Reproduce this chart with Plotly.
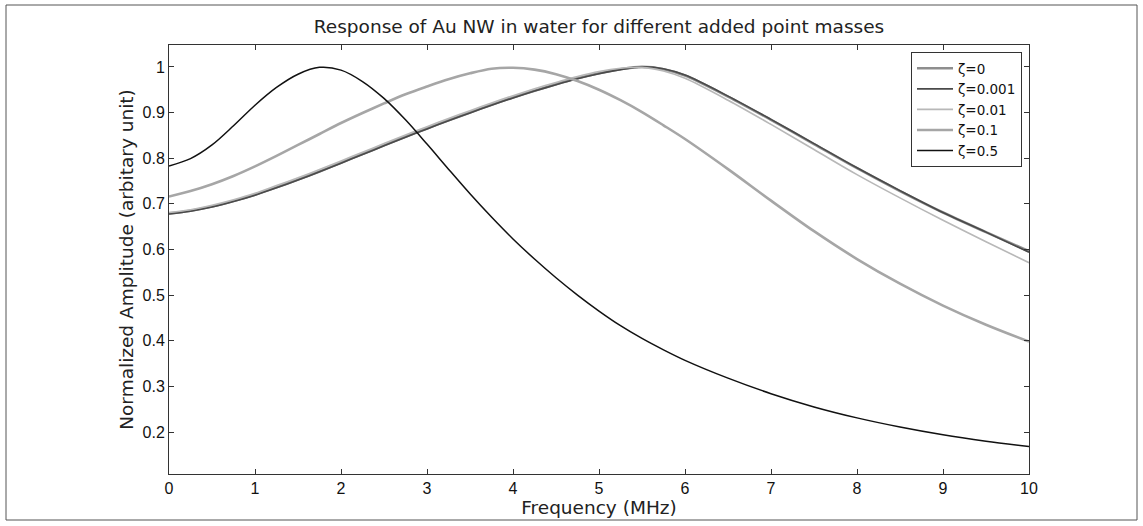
import plotly.graph_objects as go

# Frequency samples (MHz)
freq = [0, 0.25, 0.5, 0.75, 1, 1.25, 1.5, 1.75, 2, 2.25, 2.5, 2.75, 3, 3.25, 3.5, 3.75,
        4, 4.25, 4.5, 4.75, 5, 5.25, 5.5, 5.75, 6, 6.5, 7, 7.5, 8, 8.5, 9, 9.5, 10]

amp_z0 = [0.679, 0.685, 0.694, 0.706, 0.720, 0.736, 0.753, 0.771, 0.790, 0.809, 0.828, 0.847,
          0.865, 0.883, 0.900, 0.917, 0.933, 0.948, 0.962, 0.975, 0.986, 0.995, 1.000, 0.995,
          0.981, 0.935, 0.884, 0.831, 0.778, 0.728, 0.681, 0.638, 0.596]
amp_z0001 = [0.678, 0.684, 0.693, 0.705, 0.719, 0.735, 0.752, 0.770, 0.789, 0.808, 0.827, 0.846,
             0.864, 0.882, 0.899, 0.916, 0.932, 0.947, 0.961, 0.974, 0.985, 0.994, 1.000, 0.996,
             0.982, 0.936, 0.885, 0.832, 0.779, 0.729, 0.681, 0.638, 0.594]
amp_z001 = [0.681, 0.687, 0.697, 0.709, 0.723, 0.740, 0.757, 0.775, 0.794, 0.813, 0.832, 0.851,
            0.869, 0.887, 0.904, 0.921, 0.937, 0.952, 0.966, 0.979, 0.990, 0.997, 0.999, 0.991,
            0.975, 0.927, 0.874, 0.819, 0.764, 0.713, 0.664, 0.617, 0.571]
amp_z01 = [0.716, 0.728, 0.743, 0.761, 0.782, 0.805, 0.829, 0.853, 0.877, 0.899, 0.920, 0.940,
           0.957, 0.973, 0.986, 0.996, 0.998, 0.994, 0.984, 0.969, 0.950, 0.927, 0.901, 0.872,
           0.842, 0.776, 0.707, 0.640, 0.579, 0.525, 0.477, 0.435, 0.398]
amp_z05 = [0.783, 0.799, 0.829, 0.871, 0.916, 0.955, 0.984, 0.999, 0.993, 0.968, 0.931, 0.884,
           0.831, 0.776, 0.722, 0.671, 0.623, 0.579, 0.538, 0.500, 0.465, 0.433, 0.405, 0.380,
           0.357, 0.318, 0.284, 0.255, 0.231, 0.211, 0.194, 0.180, 0.168]

series_names = ["ζ=0", "ζ=0.001", "ζ=0.01", "ζ=0.1", "ζ=0.5"]
series_vals = [amp_z0, amp_z0001, amp_z001, amp_z01, amp_z05]
series_colors = ["#8e8e8e", "#4a4a4a", "#b8b8b8", "#a6a6a6", "#111111"]
series_widths = [2.6, 1.6, 1.6, 2.6, 1.5]

x_ticks = [0, 1, 2, 3, 4, 5, 6, 7, 8, 9, 10]
y_ticks = [0.2, 0.3, 0.4, 0.5, 0.6, 0.7, 0.8, 0.9, 1.0]
y_tick_text = ["0.2", "0.3", "0.4", "0.5", "0.6", "0.7", "0.8", "0.9", "1"]

fig = go.Figure()
for name, vals, col, w in zip(series_names, series_vals, series_colors, series_widths):
    fig.add_trace(go.Scatter(x=freq, y=vals, mode="lines", name=name,
                             line=dict(color=col, width=w, shape="spline", smoothing=0.9)))

axis_common = dict(showgrid=False, zeroline=False, showline=True, linecolor="#333",
                   linewidth=1, mirror="ticks", ticks="inside", ticklen=5,
                   tickcolor="#333", tickfont=dict(family="Liberation Sans", size=16, color="#111"))

fig.update_layout(
    width=1143, height=526,
    margin=dict(l=169, r=114, t=45, b=52),
    paper_bgcolor="white", plot_bgcolor="white",
    title=dict(text="Response of Au NW in water for different added point masses",
               x=(169 + 1029) / 2 / 1143, xanchor="center", y=1 - 27 / 526, yanchor="middle",
               font=dict(family="DejaVu Sans", size=18.5, color="#222")),
    xaxis=dict(range=[0, 10], tickvals=x_ticks,
               title=dict(text="Frequency (MHz)", standoff=2,
                          font=dict(family="DejaVu Sans", size=18.5, color="#222")),
               **axis_common),
    yaxis=dict(range=[0.108, 1.048], tickvals=y_ticks, ticktext=y_tick_text,
               title=dict(text="Normalized Amplitude (arbitary unit)", standoff=4,
                          font=dict(family="DejaVu Sans", size=18.5, color="#222")),
               **axis_common),
    legend=dict(x=(911 - 169) / 860, y=(474 - 52) / 429, xanchor="left", yanchor="top",
                bgcolor="white", bordercolor="#333", borderwidth=1,
                font=dict(family="DejaVu Sans", size=13.5, color="#111"),
                itemwidth=36, tracegroupgap=0),
    shapes=[dict(type="rect", xref="paper", yref="paper",
                 x0=(6 - 169) / 860, x1=(1137 - 169) / 860,
                 y0=(474 - 520) / 429, y1=(474 - 5) / 429,
                 line=dict(color="#555", width=1), fillcolor="rgba(0,0,0,0)", layer="below")],
)

fig.write_html("out.html")
